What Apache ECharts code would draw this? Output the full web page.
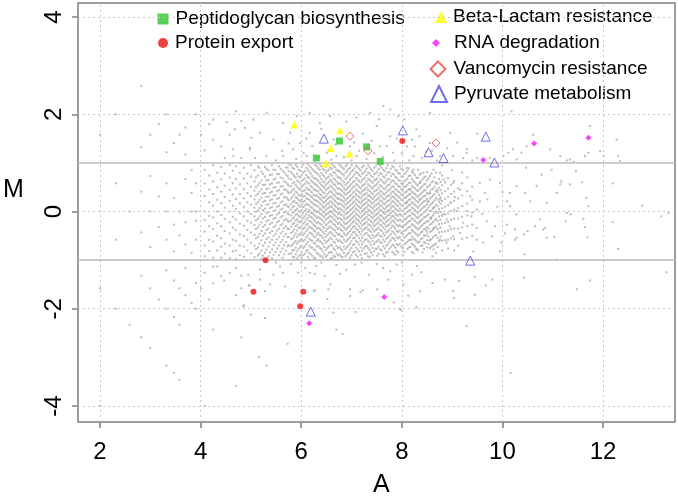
<!DOCTYPE html>
<html><head><meta charset="utf-8">
<script src="https://cdn.jsdelivr.net/npm/echarts@6/dist/echarts.min.js"></script>
<style>html,body{margin:0;padding:0;background:#fff}#c{width:678px;height:500px}</style>
</head><body><div id="c"></div>
<script>
// ---------- highlighted gene sets: [A, M] ----------
const peptidoglycan = [[6.30,1.10],[6.76,1.45],[7.30,1.33],[7.57,1.03]];
const proteinExport = [[8.01,1.45],[5.29,-1.00],[5.05,-1.65],[6.04,-1.65],[5.98,-1.95]];
const betaLactam = [[5.86,1.79],[6.77,1.67],[6.59,1.30],[6.96,1.19],[6.49,1.00]];
const rnaDegradation = [[9.62,1.06],[10.63,1.40],[11.71,1.52],[7.65,-1.76],[6.16,-2.30]];
const vancomycin = [[6.97,1.55],[7.33,1.25],[8.68,1.41]];
const pyruvate = [[6.45,1.50],[8.02,1.67],[8.53,1.22],[8.83,1.10],[9.67,1.54],[9.84,1.01],[9.36,-1.01],[6.19,-2.06]];

// ---------- background genes ----------
// columns: [A, [M values]]
const grayFanCols = [
 [4.08,[0.58,0.32,0.0,-0.17,-0.41,-0.70,-0.92]],
 [4.17,[0.74,0.45,0.19,-0.09,-0.30,-0.58,-0.81]],
 [4.25,[0.95,0.62,0.36,0.12,-0.12,-0.36,-0.62,-0.95]],
 [4.33,[0.80,0.50,0.24,0.0,-0.24,-0.50,-0.80]],
 [4.41,[0.92,0.66,0.41,0.17,-0.07,-0.30,-0.55,-0.72,-0.95]],
 [4.48,[0.78,0.53,0.30,0.08,-0.15,-0.40,-0.66,-0.87]],
 [4.58,[0.96,0.70,0.45,0.22,0.0,-0.22,-0.45,-0.70,-0.96]],
 [4.64,[0.84,0.58,0.35,0.12,-0.11,-0.33,-0.58,-0.82]],
 [4.70,[0.93,0.67,0.47,0.26,0.05,-0.16,-0.38,-0.60,-0.80,-0.98]],
 [4.78,[0.80,0.56,0.36,0.17,-0.04,-0.25,-0.47,-0.70,-0.90]],
 [4.86,[0.90,0.68,0.46,0.27,0.09,-0.10,-0.29,-0.50,-0.72,-0.93]],
 [4.93,[0.78,0.58,0.38,0.19,0.0,-0.19,-0.38,-0.58,-0.80]],
 [5.00,[0.96,0.72,0.51,0.32,0.14,-0.05,-0.23,-0.43,-0.64,-0.86]],
 [5.07,[0.85,0.62,0.43,0.25,0.08,-0.10,-0.28,-0.48,-0.70,-0.94]],
 [5.10,[0.70,0.50,0.33,0.16,-0.01,-0.18,-0.36,-0.55,-0.77]],
 [5.14,[0.93,0.74,0.54,0.36,0.19,0.02,-0.15,-0.33,-0.52,-0.74,-0.90]],
 [5.17,[0.90,0.59,0.41,0.24,0.07,-0.10,-0.27,-0.46,-0.66,-0.86]],
 [5.21,[0.82,0.64,0.46,0.29,0.12,-0.05,-0.22,-0.40,-0.59,-0.80,-0.97]],
 [5.24,[0.77,0.55,0.37,0.20,0.03,-0.14,-0.31,-0.50,-0.70,-0.91]],
 [5.28,[0.92,0.72,0.55,0.38,0.22,0.06,-0.11,-0.28,-0.45,-0.64,-0.85]],
 [5.31,[0.88,0.64,0.46,0.30,0.14,-0.03,-0.20,-0.38,-0.57,-0.78]],
 [5.35,[0.85,0.65,0.48,0.31,0.15,-0.01,-0.18,-0.35,-0.53,-0.72,-0.92]],
 [5.38,[0.75,0.56,0.39,0.23,0.07,-0.09,-0.26,-0.44,-0.63,-0.84]],
 [5.42,[0.95,0.76,0.58,0.41,0.25,0.09,-0.07,-0.23,-0.40,-0.58,-0.78,-0.96]],
 [5.45,[0.86,0.66,0.49,0.33,0.17,0.01,-0.15,-0.32,-0.50,-0.69,-0.89]],
 [5.49,[0.86,0.68,0.50,0.34,0.18,0.03,-0.13,-0.29,-0.46,-0.64,-0.83]],
 [5.52,[0.77,0.59,0.42,0.26,0.10,-0.06,-0.22,-0.39,-0.57,-0.76]],
 [5.56,[0.93,0.77,0.60,0.44,0.28,0.12,-0.03,-0.19,-0.35,-0.52,-0.70,-0.90]],
 [5.59,[0.88,0.70,0.52,0.35,0.19,0.04,-0.12,-0.28,-0.45,-0.63,-0.83]],
 [5.63,[0.84,0.68,0.52,0.37,0.21,0.06,-0.09,-0.25,-0.41,-0.58,-0.76,-0.95]],
 [5.66,[0.80,0.62,0.45,0.29,0.13,-0.02,-0.18,-0.34,-0.51,-0.69,-0.88]],
 [5.70,[0.91,0.76,0.60,0.45,0.30,0.15,0.0,-0.15,-0.30,-0.46,-0.63,-0.81]],
 [5.73,[0.90,0.73,0.56,0.41,0.26,0.11,-0.04,-0.19,-0.35,-0.53,-0.72]],
 [5.75,[0.97,0.83,0.68,0.53,0.38,0.23,0.09,-0.06,-0.21,-0.36,-0.52,-0.69,-0.87]]
];
// columns in hundredths: [A*100, [M*100 ...]]
const grayCoreCols = [
 [580,[95,81,66,52,40,27,15,4,-8,-19,-31,-44,-57,-71,-86]],
 [583,[90,77,58,44,31,20,9,-2,-14,-26,-41,-55,-68,-80,-93]],
 [586,[88,73,60,47,35,22,11,0,-12,-24,-37,-50,-64,-79,-94]],
 [589,[96,70,55,41,29,18,3,-7,-18,-30,-45,-61,-74,-88]],
 [592,[92,78,64,51,39,28,17,6,-5,-16,-27,-39,-52,-66,-82,-97]],
 [595,[86,72,61,47,34,24,13,1,-9,-21,-33,-48,-62,-77,-92]],
 [598,[84,70,57,45,33,21,10,-1,-12,-22,-34,-46,-59,-73,-89]],
 [601,[92,75,63,50,36,25,15,3,-8,-19,-31,-43,-57,-70,-84,-96]],
 [604,[97,80,66,54,42,31,20,9,-3,-14,-25,-36,-48,-61,-75,-90]],
 [607,[83,68,57,44,32,22,12,1,-10,-22,-33,-45,-58,-72,-87]],
 [610,[90,75,62,49,38,27,16,5,-6,-17,-28,-40,-53,-67,-82]],
 [613,[98,86,71,59,46,36,26,14,-1,-13,-25,-36,-49,-63,-79,-93]],
 [616,[94,82,69,57,45,34,24,13,3,-8,-19,-31,-43,-56,-70,-85,-98]],
 [619,[91,78,64,52,41,31,20,9,-2,-11,-21,-33,-45,-59,-74,-88]],
 [622,[87,73,61,50,39,29,18,8,-3,-13,-24,-35,-47,-60,-74,-91]],
 [625,[84,69,58,46,34,25,15,4,-6,-17,-28,-39,-51,-65,-78,-96]],
 [628,[96,81,68,56,44,33,23,13,2,-9,-20,-30,-41,-53,-66,-80,-95]],
 [631,[93,79,66,54,43,33,22,12,-1,-13,-24,-35,-47,-60,-72,-85]],
 [634,[89,76,63,51,41,30,20,10,0,-11,-22,-33,-44,-57,-71,-87]],
 [637,[97,86,72,59,47,36,27,17,6,-4,-14,-25,-36,-48,-61,-75,-91]],
 [640,[93,79,67,55,44,34,24,14,4,-6,-16,-27,-38,-50,-63,-77,-92]],
 [643,[88,75,62,52,40,29,20,10,0,-9,-19,-31,-42,-54,-67,-82,-95]],
 [646,[85,72,60,49,38,28,18,8,-2,-12,-23,-34,-46,-59,-73,-88]],
 [649,[92,80,66,54,44,32,22,12,3,-7,-17,-28,-40,-52,-64,-79,-93]],
 [652,[97,84,70,58,47,36,26,16,6,-4,-14,-25,-36,-48,-61,-75,-90]],
 [655,[86,72,61,49,39,28,17,8,-2,-12,-22,-33,-45,-58,-72,-85]],
 [658,[90,77,65,53,42,31,21,11,1,-9,-19,-30,-42,-54,-68,-83,-97]],
 [661,[98,88,74,61,50,39,29,19,9,-1,-11,-22,-34,-45,-57,-70,-84,-96]],
 [664,[94,81,68,57,46,35,25,15,5,-5,-15,-26,-37,-49,-62,-76,-91]],
 [667,[91,79,66,55,43,33,22,12,2,-8,-18,-28,-39,-51,-64,-79,-93]],
 [670,[86,74,62,50,39,29,19,9,-1,-11,-21,-32,-44,-57,-71,-86]],
 [673,[84,70,58,47,36,26,15,5,-5,-15,-25,-36,-48,-61,-75,-90]],
 [676,[96,83,70,58,47,37,27,17,7,-3,-13,-23,-34,-46,-59,-73,-88]],
 [679,[93,80,68,56,45,34,24,15,4,-6,-16,-27,-38,-50,-62,-77,-92]],
 [682,[90,77,64,53,42,32,22,12,2,-8,-18,-29,-40,-52,-65,-80,-94]],
 [685,[87,74,60,48,38,28,19,9,-1,-12,-23,-33,-45,-58,-72,-85]],
 [688,[93,80,67,55,44,34,24,14,4,-6,-16,-26,-37,-49,-62,-77,-92]],
 [691,[96,83,70,58,47,37,27,17,7,-3,-13,-24,-35,-47,-59,-73,-88]],
 [694,[87,74,61,50,39,29,19,9,-1,-11,-21,-32,-44,-56,-70,-85]],
 [697,[90,78,65,53,42,32,22,12,2,-8,-18,-29,-40,-53,-66,-80,-95]],
 [700,[95,82,69,57,46,35,25,15,5,-5,-15,-25,-36,-48,-61,-75,-90]],
 [703,[85,72,61,50,39,29,18,8,-2,-12,-22,-32,-43,-55,-69,-84]],
 [706,[89,76,63,52,41,31,21,11,1,-9,-19,-30,-42,-54,-67,-82]],
 [709,[94,81,69,57,46,36,26,16,6,-4,-14,-24,-35,-47,-60,-74,-89]],
 [712,[92,79,66,54,43,33,23,13,3,-7,-17,-27,-38,-50,-63,-78,-93]],
 [715,[88,75,63,51,40,30,20,10,0,-10,-20,-31,-42,-55,-68,-82]],
 [718,[85,72,60,48,37,27,17,7,-3,-13,-24,-35,-47,-60,-74,-89]],
 [721,[91,78,65,53,41,31,21,11,1,-9,-19,-29,-41,-54,-67,-81,-96]],
 [724,[94,80,67,55,44,34,24,14,4,-6,-16,-26,-37,-49,-62,-76]],
 [727,[83,70,57,46,36,26,16,6,-4,-14,-24,-35,-46,-58,-72,-87]],
 [730,[88,75,62,50,39,29,19,9,-1,-11,-21,-32,-44,-57,-71,-86]],
 [733,[95,80,68,56,45,34,24,14,4,-6,-16,-26,-37,-49,-61,-75,-92]],
 [736,[91,78,65,53,42,32,22,12,2,-8,-18,-28,-39,-51,-64,-79,-94]],
 [739,[87,74,62,50,39,29,19,9,-1,-11,-21,-31,-42,-55,-69,-84]],
 [742,[84,71,59,47,36,26,16,6,-4,-14,-25,-36,-48,-61,-75,-90]],
 [745,[90,77,64,52,41,30,20,10,0,-10,-20,-30,-41,-53,-67,-82]],
 [748,[93,79,66,54,43,33,23,13,3,-7,-17,-27,-38,-50,-63,-77]],
 [751,[82,68,57,45,35,25,15,5,-5,-15,-25,-36,-48,-61,-76,-91]],
 [754,[87,74,61,49,38,28,18,8,-2,-12,-22,-33,-45,-58,-72,-87]],
 [757,[94,79,66,54,43,33,23,13,3,-7,-17,-27,-38,-50,-63,-78]],
 [760,[90,77,64,52,41,31,21,11,1,-9,-19,-29,-40,-52,-65,-80]],
 [763,[86,72,60,48,37,27,17,7,-3,-13,-23,-33,-45,-58,-72,-88]],
 [766,[83,70,58,46,35,25,15,5,-5,-15,-26,-37,-49,-62,-76,-92]],
 [769,[89,75,62,50,39,29,19,9,-1,-11,-21,-31,-43,-56,-70,-85]],
 [772,[95,80,66,54,43,32,22,12,2,-8,-18,-29,-41,-54,-68,-83]],
 [775,[81,67,55,44,33,23,13,3,-7,-17,-27,-38,-50,-63,-77]],
 [778,[88,73,60,48,37,27,17,7,-3,-13,-23,-34,-46,-59,-73]],
 [781,[93,78,64,52,41,31,21,11,1,-9,-19,-29,-41,-54,-68,-83]],
 [784,[91,76,63,51,40,30,20,10,0,-10,-20,-31,-43,-56,-70,-86]],
 [787,[86,71,58,46,36,26,16,6,-4,-14,-24,-35,-47,-60,-74,-89]],
 [790,[84,69,56,44,33,23,13,3,-7,-17,-28,-40,-53,-67,-81]],
 [793,[79,64,52,41,31,21,11,1,-9,-19,-30,-42,-55,-69,-84]],
 [796,[93,78,64,51,39,28,17,6,-5,-16,-27,-39,-52,-66]],
 [799,[88,72,58,46,35,24,13,2,-8,-19,-31,-44,-58,-72]],
 [802,[86,71,57,45,34,23,12,1,-10,-21,-33,-46,-60,-75,-90]],
 [805,[77,62,50,39,28,17,6,-5,-16,-28,-40,-54,-68,-83]],
 [808,[80,65,52,40,29,18,7,-4,-15,-26,-38,-51,-65]],
 [811,[84,68,55,43,32,21,10,-1,-12,-23,-35,-48,-62,-77]],
 [814,[89,73,59,46,35,24,13,2,-9,-20,-32,-45,-59,-74]],
 [817,[74,59,47,36,25,14,3,-8,-19,-31,-44,-58,-73]],
 [820,[82,67,53,41,30,19,8,-3,-14,-26,-38,-51,-66,-83]],
 [823,[79,63,50,39,28,17,6,-5,-16,-28,-41,-55,-69,-86]],
 [826,[75,60,48,36,25,14,3,-8,-19,-31,-44,-58,-72]],
 [829,[70,56,44,33,22,11,0,-11,-22,-34,-47,-61,-76]],
 [832,[86,69,54,42,30,19,8,-3,-14,-25,-37,-50,-64,-79]],
 [835,[76,59,46,34,23,12,1,-10,-22,-34,-47,-62]],
 [838,[78,62,49,37,26,15,4,-7,-18,-30,-43,-57,-71]],
 [841,[66,52,40,29,18,7,-5,-16,-28,-41,-55,-70,-84]],
 [844,[70,56,43,32,21,10,-1,-12,-24,-36,-49,-63,-77]],
 [847,[72,57,44,33,22,11,0,-11,-23,-36,-50,-65]],
 [850,[81,64,50,38,26,15,4,-8,-20,-32,-45,-59,-74]],
 [853,[68,52,36,21,8,-6,-20,-35,-51,-67]],
 [856,[73,55,40,27,13,1,-13,-27,-42,-58,-75]],
 [859,[78,60,45,30,16,2,-11,-25,-40,-57,-72]],
 [862,[62,47,33,19,6,-8,-22,-37,-53,-70]],
 [865,[70,51,36,23,9,-4,-18,-33,-50,-68]],
 [868,[80,58,42,28,14,0,-15,-31,-48,-66,-85]],
 [871,[57,40,25,11,-3,-19,-36,-54,-73]],
 [874,[67,49,34,20,5,-10,-26,-43,-61]],
 [877,[61,44,29,16,-1,-17,-33,-51]],
 [880,[74,54,37,22,7,-9,-25,-42,-60,-80]],
 [886,[60,42,26,10,-6,-23,-41,-59]],
 [892,[69,47,30,13,-4,-21,-39,-58,-76]],
 [898,[55,36,18,1,-17,-36,-55]],
 [904,[63,41,22,4,-15,-35,-57,-80]],
 [912,[48,27,7,-14,-35]],
 [920,[58,33,11,-11,-33,-56]],
 [930,[42,16,-8,-30]],
 [940,[51,24,-2,-27,-50]]
];
const grayLeft = [[2.82,2.58],[2.32,2.0],[3.32,2.0],[3.91,2.0],[2.0,1.58],[3.0,1.58],[3.58,1.58],[3.17,1.80],[2.82,1.32],[3.32,1.22],[3.47,1.41],[3.70,1.73],[3.70,1.17],[4.01,1.58],[4.17,1.80],[4.25,1.89],[4.25,1.48],[4.08,1.26],
 [2.32,0.58],[2.82,0.41],[3.0,0.73],[3.17,0.31],[3.32,0.58],[3.47,0.28],[3.70,0.67],[3.82,0.85],[3.91,0.58],[3.82,0.38],[4.08,0.86],
 [2.59,0],[3.0,0],[3.32,0],[3.58,0],[3.82,0],[3.91,0],
 [2.32,-0.58],[2.82,-0.43],[3.0,-0.73],[3.17,-0.32],[3.32,-0.58],[3.47,-0.27],[3.47,-0.82],[3.58,-0.49],[3.70,-0.22],[3.70,-0.68],[3.82,-0.85],[3.91,-0.58],[3.91,-0.19]];
const grayUpper = [[4.52,1.84],[4.81,1.86],[4.58,1.58],[4.68,1.69],[4.41,1.34],[4.48,1.10],[4.64,1.28],[4.88,1.72],[5.01,1.52],[4.98,1.28],[4.81,1.10],[5.08,1.10],[4.70,2.06],
 [5.05,1.89],[5.31,2.03],[5.64,1.82],[5.78,1.62],[5.45,1.48],[5.18,1.62],[5.98,1.41],[6.17,1.62],[6.37,1.82],[6.57,1.96],[6.17,2.03],[5.84,1.28],[5.64,1.14],[6.11,1.14],[6.51,1.21],[6.70,1.14],[4.65,1.14],[4.98,1.31],[5.31,1.14],[6.64,1.48],[5.91,1.96],
 [8.26,1.34],[8.49,1.24],[8.20,1.48],[8.10,1.34],[7.93,1.96],[8.29,1.69],[8.96,1.62],[9.02,1.14],[9.29,1.28],[9.22,1.10],[10.02,1.14],[10.21,1.28],[10.48,1.34],[10.95,1.28],[10.61,1.58],[11.15,1.14],[11.34,1.07],[11.71,1.21],[12.01,1.14],[12.27,1.48],[11.74,1.76],[10.18,2.06],[8.56,2.03],[7.77,2.10],[7.37,2.03],[7.10,1.93],[7.50,1.76],[7.77,1.55],[7.57,1.34],[6.97,1.34],[7.10,1.14],[7.83,1.21],[8.23,1.14],[8.76,1.14],[8.56,1.41],[7.63,2.17],
 [10.12,1.21],[10.38,1.21],[11.28,1.05],[11.41,1.02],[11.64,1.14],[12.30,1.14],[12.34,1.04],[11.94,1.24],[9.29,1.21],[9.49,1.10],[9.75,1.10],[10.28,1.07],
 [5.50,1.05],[5.62,1.25],[5.75,1.40],[5.90,1.08],[6.05,1.20],[6.10,1.50],[6.22,1.35],[6.35,1.12],[6.40,1.70],[6.55,1.25],[6.60,1.07],[6.68,1.38],[6.85,1.12],[6.90,1.85],[7.00,1.05],[7.05,1.42],[7.15,1.25],[7.22,1.60],[7.30,1.08],[7.40,1.45],[7.45,1.20],[7.55,1.90],[7.62,1.12],[7.70,1.35],[7.85,1.05],[7.90,1.50],[8.00,1.20],[8.05,1.90],[8.15,1.05],[8.35,1.55],[8.40,1.10],[8.60,1.25],[8.70,1.05],[8.90,1.30],[9.10,1.42],[9.40,1.05],[9.50,1.60]];
const grayLower = [[2.82,-1.32],[3.32,-1.21],[3.0,-1.58],[3.17,-1.81],[3.47,-1.42],[3.58,-1.58],[3.70,-1.16],[3.70,-1.72],[3.82,-1.88],[3.91,-1.47],[2.0,-1.58],[2.32,-2.0],[3.32,-2.0],[3.91,-2.0],[2.59,-2.33],[3.58,-2.33],[3.47,-2.17],[2.82,-2.59],[3.0,-2.81],[3.32,-3.17],[3.47,-3.32],[3.58,-3.46],[2.0,-4.0],[2.01,-4.0],[4.08,-4.0],[4.25,-2.43],[4.70,-3.59],[4.81,-2.59],[5.0,-2.12],[4.17,-1.81],[4.08,-1.26],[4.25,-1.48],[4.25,-1.13],[4.41,-1.33],[4.58,-1.26],[4.47,-1.42],[4.70,-1.16],[4.81,-1.32],[4.70,-1.72],[4.86,-1.93],[4.81,-1.58],[4.96,-1.52],[4.33,-1.13],[4.01,-1.58],
 [5.16,-2.99],[5.31,-3.17],[5.73,-2.72],[5.28,-2.19],[5.68,-1.54],[6.27,-1.62],[6.54,-1.60],[6.64,-2.08],[6.70,-2.43],[4.85,-1.95],
 [6.82,-2.52],[7.08,-2.07],[7.96,-2.0],[8.29,-1.97],[7.84,-1.87],[8.13,-1.73],[7.51,-1.60],[7.22,-1.62],[6.97,-1.74],[6.97,-1.60],[6.52,-1.80],[6.25,-1.64],[6.58,-1.50],[6.77,-1.28],[6.47,-1.33],[6.27,-1.28],[6.17,-1.26],[6.08,-1.16],[5.94,-1.26],[5.38,-1.50],[5.28,-1.64],[4.97,-1.52],[5.18,-1.19],[5.45,-1.30],[5.64,-1.26],[5.58,-1.13],[5.18,-1.40],[4.95,-1.30],[7.07,-1.09],[7.63,-1.16],[7.77,-1.23],[7.90,-1.09],[7.73,-1.40],[8.03,-1.50],[8.20,-1.30],[7.18,-1.66],
 [8.39,-1.25],[8.36,-1.64],[8.61,-1.47],[8.86,-1.40],[9.02,-1.64],[9.14,-1.43],[9.45,-1.34],[9.45,-1.71],[9.67,-1.52],[9.80,-1.40],[9.04,-1.78],[11.48,-1.60],[11.74,-1.42],[10.43,-1.36],[13.26,-1.25],
 [9.29,-2.36],[10.16,-3.32],[7.98,-2.02],
 [6.0,-1.05],[6.3,-1.12],[6.4,-1.05],[6.7,-1.10],[6.9,-1.20],[7.2,-1.05],[7.35,-1.30],[7.5,-1.08],[8.0,-1.05],[8.3,-1.12],[5.8,-1.08],[5.5,-1.05]];
const grayRight = [[10.47,0.90],[10.78,0.76],[10.98,0.86],[11.17,0.62],[11.34,0.56],[11.46,0.83],[11.58,0.60],[11.67,0.28],[11.71,0.11],[11.61,-0.15],[11.64,-0.32],[11.69,-0.53],[12.19,0.58],[12.19,-0.22],[12.30,-0.77],[12.78,0.12],[13.16,-0.10],[13.30,-0.03],
 [11.08,-0.99],[10.44,-0.88],[10.28,-0.54],[10.50,-0.40],[10.65,-0.30],[10.81,-0.37],[11.03,-0.52],[11.28,-0.03],[11.36,-0.06],[11.26,-0.20],[11.08,0.38],[11.15,0.56],[10.88,0.18],[10.68,0.53],[10.55,0.21],[10.45,0.38],[10.28,0.52],[10.15,0.11],[10.09,0.21],[10.28,-0.06],[10.25,-0.37],[10.09,-0.27],[9.98,-0.64],[9.95,-0.82],[9.69,-0.20],[9.55,0.21],[9.65,0.38],[9.55,0.59],[9.75,0.66],[9.95,0.59],[9.49,-0.34],[9.79,-0.51],[9.62,-0.64],[9.49,-0.58],[9.42,-0.82],[9.29,-0.54],[9.22,-0.23],[9.16,-0.44],[9.02,-0.51],[8.89,-0.64],[8.76,-0.58],[8.63,-0.78],[8.61,-0.92],[8.29,-0.78],[8.19,-0.58],[8.03,-0.30],[8.36,-0.20],[8.49,-0.40],[8.63,-0.34],[8.89,-0.16],[9.09,0.01],[9.29,0.01],[9.49,0.04],[9.36,0.31],[9.16,0.45],[9.02,0.59],[8.83,0.66],[8.76,0.80],[8.63,0.86],[8.43,0.80],[8.23,0.86],[8.10,0.90],[8.36,0.59],[8.56,0.38],[8.76,0.25],[8.96,0.18],[8.36,0.25],[8.16,0.45],[8.10,0.18],[8.63,0.08],[10.15,0.38],[10.75,-0.16],[10.85,-0.34],[10.88,-0.54],[10.43,-0.47],[10.25,-0.58],
 [8.70,0.45],[8.82,-0.05],[8.95,-0.30],[9.05,0.30],[9.12,-0.70],[9.30,0.70],[9.38,-0.10],[9.60,-0.05],[9.70,0.25],[9.85,-0.30],[9.90,0.10],[10.0,0.40],[10.05,-0.45],[8.55,-0.60],[8.68,0.60],[8.80,0.95],[9.00,0.85],[9.20,0.80],[8.52,0.20],[8.58,-0.15]];

const xTicks = [2,4,6,8,10,12];
const yTicks = [-4,-2,0,2,4];
const cutoffs = [-1,1];

const FONT = '"Liberation Sans", Arial, Helvetica, sans-serif';
function fromCols(list, scale){ const out=[]; list.forEach(c=>c[1].forEach(m=>out.push([c[0]/scale, m/scale]))); return out; }
const gray = [].concat(fromCols(grayFanCols,1), fromCols(grayCoreCols,100), grayLeft, grayUpper, grayLower, grayRight);

const chart = echarts.init(document.getElementById('c'), null, {renderer:'canvas'});
const gridLineDotted = {type:[2,3], color:'#c8c8c8', width:1};
function mkLegend(name, left, top, w, h, pad, extra){
  return Object.assign({data:[name], left:left, top:top, itemWidth:w, itemHeight:h, padding:0, orient:'vertical', selectedMode:false,
    textStyle:{fontSize:19, fontFamily:FONT, color:'#000', lineHeight:22, padding:[0,0,0,pad]}}, extra||{});
}
chart.setOption({
  animation:false,
  backgroundColor:'#fff',
  grid:{left:78, right:3, top:3, bottom:78, show:true, borderColor:'#7f7f7f', borderWidth:1.5, containLabel:false},
  xAxis:{type:'value', min:1.563, max:13.43, splitLine:{show:false}, axisLine:{show:false, onZero:false},
    axisTick:{show:true, customValues:xTicks, length:6, lineStyle:{color:'#7f7f7f', width:1.5}},
    axisLabel:{customValues:xTicks, fontSize:24, fontFamily:FONT, color:'#000', margin:18}},
  yAxis:{type:'value', min:-4.33, max:4.29, splitLine:{show:false}, axisLine:{show:false, onZero:false},
    axisTick:{show:true, customValues:yTicks, length:6, lineStyle:{color:'#7f7f7f', width:1.5}},
    axisLabel:{customValues:yTicks, fontSize:24, fontFamily:FONT, color:'#000', rotate:90, margin:12}},
  legend:[
    mkLegend('Peptidoglycan biosynthesis', 157.5, 8, 11, 11, 2),
    mkLegend('Protein export', 158, 32, 10, 10, 2),
    mkLegend('Beta-Lactam resistance', 435, 6, 12, 12, 1),
    mkLegend('RNA degradation', 432, 32, 8, 8, 9),
    mkLegend('Vancomycin resistance', 429.5, 58, 15, 15, 3, {itemStyle:{color:'transparent', borderColor:'#e84a4a', borderWidth:2}}),
    mkLegend('Pyruvate metabolism', 430, 83, 16, 16, 2, {itemStyle:{color:'transparent', borderColor:'#4a4ae0', borderWidth:2}})
  ],
  graphic:[
    {type:'text', left:3, top:178, style:{text:'M', fontSize:25, fontFamily:FONT, fill:'#000'}},
    {type:'text', left:373, top:473, style:{text:'A', fontSize:25, fontFamily:FONT, fill:'#000'}}
  ],
  series:[
    {type:'scatter', name:'grid', data:[], silent:true, z:1,
     markLine:{silent:true, symbol:'none', label:{show:false}, animation:false,
       data:[].concat(xTicks.map(v=>({xAxis:v, lineStyle:gridLineDotted})),
                      yTicks.map(v=>({yAxis:v, lineStyle:gridLineDotted})),
                      cutoffs.map(v=>({yAxis:v, lineStyle:{type:'solid', color:'#bdbdbd', width:1.5}})))}},
    {type:'scatter', name:'genes', data:gray, symbol:'rect', symbolSize:2, itemStyle:{color:'#ababab'}, silent:true, z:2, large:false},
    {type:'scatter', name:'Peptidoglycan biosynthesis', data:peptidoglycan, symbol:'rect', symbolSize:7, itemStyle:{color:'#2ec42e'}, z:5},
    {type:'scatter', name:'Protein export', data:proteinExport, symbol:'circle', symbolSize:6, itemStyle:{color:'#ee1111'}, z:5},
    {type:'scatter', name:'Beta-Lactam resistance', data:betaLactam, symbol:'triangle', symbolSize:8, itemStyle:{color:'#ffff00'}, z:5},
    {type:'scatter', name:'RNA degradation', data:rnaDegradation, symbol:'diamond', symbolSize:6, itemStyle:{color:'#ff11ff'}, z:5},
    {type:'scatter', name:'Vancomycin resistance', data:vancomycin, symbol:'diamond', symbolSize:8, itemStyle:{color:'transparent', borderColor:'#e84a4a', borderWidth:1}, z:5},
    {type:'scatter', name:'Pyruvate metabolism', data:pyruvate, symbol:'triangle', symbolSize:9, itemStyle:{color:'transparent', borderColor:'#4a4ae0', borderWidth:1}, z:5}
  ]
});
</script></body></html>
